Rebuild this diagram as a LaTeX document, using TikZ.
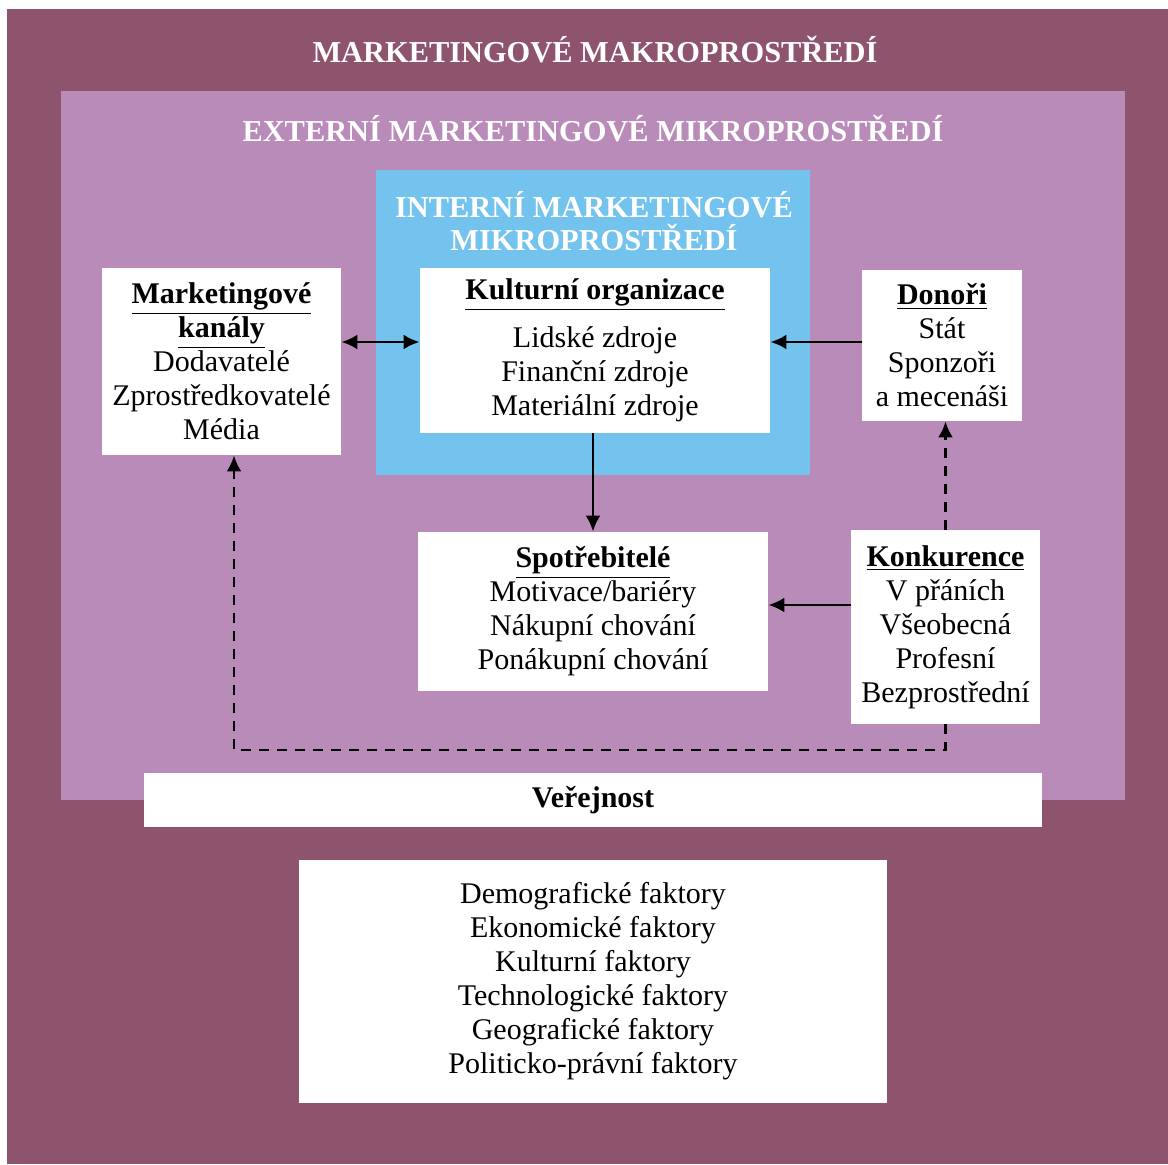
\documentclass[tikz,border=0pt]{standalone}
\usepackage{fontspec}
\setmainfont{Liberation Serif}
\usepackage{tikz}
\usetikzlibrary{arrows,arrows.meta,shapes,positioning}
\definecolor{makro}{RGB}{142,84,109}
\definecolor{mikro}{RGB}{185,139,185}
\definecolor{interni}{RGB}{115,195,238}

\begin{document}
\begin{tikzpicture}[x=0.5pt,y=-0.5pt,
            every node/.style = {font=\fontsize{15}{17}\selectfont, align=center, inner sep=0pt},
            box/.style = {fill=white},
            title/.style = {text=white, font=\fontsize{15.2}{16.5}\selectfont\bfseries},
            link/.style = {line width=1.4pt, >={Latex[length=8pt,width=7.5pt]}},
            dashlink/.style = {link, dash pattern=on 5pt off 4pt}
            ]
            \useasboundingbox (0,0) rectangle (1168,1164);
            \fill[makro] (7,9) rectangle (1168,1164);
            \fill[mikro] (61,91) rectangle (1125,800);
            \fill[interni] (376,170) rectangle (810,475);

            \node[title] (makrotitle) at (595,50) {MARKETINGOVÉ MAKROPROSTŘEDÍ};
            \node[title] (mikrotitle) at (593,129) {EXTERNÍ MARKETINGOVÉ MIKROPROSTŘEDÍ};
            \node[title] (internititle) at (594,221) {INTERNÍ MARKETINGOVÉ\\MIKROPROSTŘEDÍ};

            \node[box, minimum width=119.5pt, minimum height=93.5pt] (kanaly) at (221.5,361.5)
                {\underline{\textbf{Marketingové}}\\ \underline{\textbf{kanály}}\\ Dodavatelé\\ Zprostředkovatelé\\ Média};
            \node[box, minimum width=175pt, minimum height=82.5pt] (kultura) at (595,350.5)
                {\underline{\textbf{Kulturní organizace}}\\[7pt] Lidské zdroje\\ Finanční zdroje\\ Materiální zdroje};
            \node[box, minimum width=80pt, minimum height=75.5pt] (donori) at (942,345.5)
                {\underline{\textbf{Donoři}}\\ Stát\\ Sponzoři\\ a mecenáši};
            \node[box, minimum width=175pt, minimum height=79.5pt] (spotr) at (593,611.5)
                {\underline{\textbf{Spotřebitelé}}\\ Motivace/bariéry\\ Nákupní chování\\ Ponákupní chování};
            \node[box, minimum width=94.5pt, minimum height=97pt] (konk) at (945.5,627)
                {\underline{\textbf{Konkurence}}\\ V přáních\\ Všeobecná\\ Profesní\\ Bezprostřední};
            \node[box, minimum width=449pt, minimum height=27pt] (verejnost) at (593,800)
                {\textbf{Veřejnost}};
            \node[box, minimum width=294pt, minimum height=121.5pt] (faktory) at (593,981)
                {Demografické faktory\\ Ekonomické faktory\\ Kulturní faktory\\ Technologické faktory\\ Geografické faktory\\ Politicko-právní faktory};

            \coordinate (row1) at (0,342);
            \coordinate (row2) at (0,605);
            \coordinate (dashcorner) at (234,750);
            \draw[link,<->] (kanaly.east |- row1) -- (kultura.west |- row1);
            \draw[link,->] (donori.west |- row1) -- (kultura.east |- row1);
            \draw[link,->] (spotr.north |- kultura.south) -- (spotr.north);
            \draw[link,->] (konk.west |- row2) -- (spotr.east |- row2);
            \draw[dashlink,->] (konk.north) -- (konk.north |- donori.south);
            \draw[dashlink,->] (konk.south) |- (dashcorner) -- (dashcorner |- kanaly.south);
        \end{tikzpicture}
\end{document}
